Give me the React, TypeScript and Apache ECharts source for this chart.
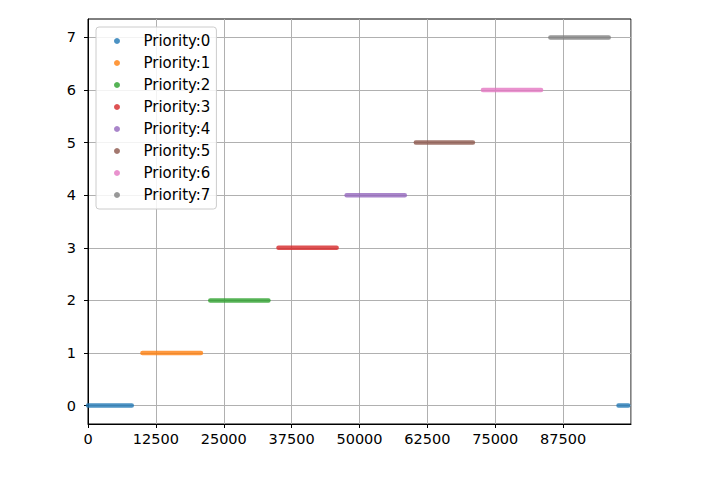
import React, { useEffect, useRef } from "react";
import * as echarts from "echarts";

const priorities = [0, 1, 2, 3, 4, 5, 6, 7];
const seriesNames = priorities.map((p) => `Priority:${p}`);
const colors = ["#1f77b4", "#ff7f0e", "#2ca02c", "#d62728", "#9467bd", "#8c564b", "#e377c2", "#7f7f7f"];
// each priority: list of [start, end] time ranges where points were recorded
const segments: number[][][] = [
  [[0, 8060], [97700, 99500]],
  [[10020, 20800]],
  [[22520, 33230]],
  [[35080, 45790]],
  [[47630, 58340]],
  [[60370, 70890]],
  [[72730, 83440]],
  [[85150, 95900]],
];
const xTicks = [0, 12500, 25000, 37500, 50000, 62500, 75000, 87500];
const yTicks = [0, 1, 2, 3, 4, 5, 6, 7];

const FONT = "DejaVu Sans";

export default function App() {
  const ref = useRef<HTMLDivElement>(null);
  useEffect(() => {
    if (!ref.current) return;
    const chart = echarts.init(ref.current, null, { renderer: "svg" });
    const series = priorities.map((p, i) => {
      const data: any[] = [];
      segments[i].forEach((seg, k) => {
        if (k > 0) data.push([seg[0] - 1, "-"]);
        data.push([seg[0], p]);
        data.push([seg[1], p]);
      });
      return {
        type: "line",
        name: seriesNames[i],
        data,
        symbol: "none",
        connectNulls: false,
        clip: true,
        color: colors[i],
        itemStyle: { color: colors[i], opacity: 0.8 },
        lineStyle: { color: colors[i], width: 4.5, cap: "round", opacity: 0.8 },
      };
    });
    chart.setOption({
      animation: false,
      backgroundColor: "#fff",
      grid: {
        left: 88,
        right: 70,
        top: 19,
        bottom: 58,
        show: true,
        borderColor: "#000",
        borderWidth: 1,
        backgroundColor: "transparent",
      },
      legend: {
        orient: "vertical",
        left: 96,
        top: 27,
        data: seriesNames.map((n) => ({ name: n, icon: "circle" })),
        itemWidth: 43,
        itemHeight: 6,
        itemGap: 6,
        padding: [6, 6, 6, 18],
        backgroundColor: "rgba(255,255,255,0.85)",
        borderColor: "#cccccc",
        borderWidth: 1,
        borderRadius: 3,
        textStyle: {
          fontFamily: FONT,
          fontSize: 15,
          color: "#000",
          lineHeight: 16,
        },
      },
      xAxis: {
        type: "value",
        min: 0,
        max: 100000,
        interval: 12500,
        axisLine: { show: true, onZero: false, lineStyle: { color: "#000", width: 1 } },
        axisTick: { show: true, inside: false, length: 4, lineStyle: { color: "#000" } },
        axisLabel: {
          fontFamily: FONT,
          fontSize: 14.5,
          color: "#000",
          margin: 7,
          showMaxLabel: false,
          formatter: (v: number) => (xTicks.includes(v) ? String(v) : ""),
        },
        splitLine: { show: true, lineStyle: { color: "#b0b0b0", width: 1 } },
      },
      yAxis: {
        type: "value",
        min: -0.35,
        max: 7.35,
        axisLine: { show: true, onZero: false, lineStyle: { color: "#000", width: 1 } },
        axisTick: {
          show: true,
          inside: false,
          length: 4,
          lineStyle: { color: "#000" },
          customValues: yTicks,
        },
        axisLabel: {
          fontFamily: FONT,
          fontSize: 14.5,
          color: "#000",
          margin: 12,
          customValues: yTicks,
        },
        splitLine: { show: true, lineStyle: { color: "#b0b0b0", width: 1 } },
      },
      series,
    });
    return () => chart.dispose();
  }, []);
  return (
    <div
      ref={ref}
      style={{ position: "fixed", left: 0, top: 0, width: 701, height: 482 }}
    />
  );
}
